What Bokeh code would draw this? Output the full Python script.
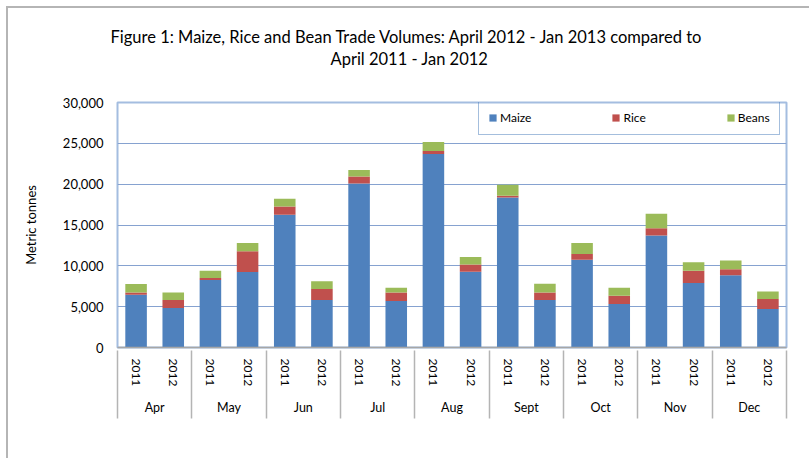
from bokeh.plotting import figure
from bokeh.models import (FactorRange, Range1d, LinearAxis, FixedTicker, NumeralTickFormatter,
                          Legend, LegendItem, Title, ColumnDataSource)
from bokeh.embed import file_html
from bokeh.resources import INLINE

# ---------------- data ----------------
months = ["Apr", "May", "Jun", "Jul", "Aug", "Sept", "Oct", "Nov", "Dec"]
years = ["2011", "2012"]
maize = [6460, 4830, 8260, 9250, 16240, 5810, 20090, 5690, 23690,
         9290, 18370, 5810, 10760, 5320, 13710, 7900, 8840, 4710]
rice = [290, 980, 250, 2530, 1030, 1350, 860, 1060, 370,
        860, 210, 940, 700, 1020, 900, 1510, 730, 1220]
beans = [1020, 940, 900, 1030, 940, 940, 780, 570, 1100,
         940, 1350, 1060, 1350, 980, 1760, 1020, 1070, 940]
series = ["Maize", "Rice", "Beans"]
colors = ["#4F81BD", "#C0504D", "#9BBB59"]
y_ticks = [0, 5000, 10000, 15000, 20000, 25000, 30000]
title_lines = ["Figure 1: Maize, Rice and Bean Trade Volumes: April 2012 -  Jan 2013   compared  to",
               "April 2011 - Jan 2012"]
y_label = "Metric tonnes"

FONT = "Lato"

x = [(m, y) for m in months for y in years]
source = ColumnDataSource(dict(x=x, Maize=maize, Rice=rice, Beans=beans))

p = figure(x_range=FactorRange(*x, group_padding=0, range_padding=0),
           y_range=Range1d(0, 30000),
           width=801, height=450, output_backend="svg", toolbar_location=None,
           min_border_left=109, min_border_right=23, min_border_top=94, min_border_bottom=111)
p.styles = {"margin-left": "8px", "margin-top": "8px", "outline": "2px solid #b5b5b5"}
p.background_fill_color = "white"
p.border_fill_color = "white"
p.outline_line_color = "#a4bde0"
p.outline_line_width = 2

renderers = p.vbar_stack(series, x="x", width=0.58, color=colors, line_color=None, source=source)

# grid
p.xgrid.grid_line_color = None
p.ygrid.ticker = FixedTicker(ticks=y_ticks)
p.ygrid.grid_line_color = "#86a2d0"
p.ygrid.grid_line_width = 1.2

# y axis
ya = p.yaxis[0]
ya.ticker = FixedTicker(ticks=y_ticks)
ya.formatter = NumeralTickFormatter(format="0,0")
ya.axis_line_color = None
ya.major_tick_line_color = None
ya.minor_tick_line_color = None
ya.major_tick_out = 0
ya.major_tick_in = 0
ya.major_label_standoff = 14
ya.major_label_text_font = FONT
ya.major_label_text_font_size = "13px"
ya.major_label_text_color = "black"
ya.axis_label = y_label
ya.axis_label_text_font = FONT
ya.axis_label_text_font_size = "13px"
ya.axis_label_text_font_style = "normal"
ya.axis_label_text_color = "black"
ya.axis_label_standoff = 21

# categorical x axis
xa = p.xaxis[0]
xa.axis_line_color = "#a6a6a6"
xa.axis_line_width = 1.5
xa.major_tick_line_color = None
xa.major_tick_out = 0
xa.major_tick_in = 0
xa.major_label_orientation = "vertical"
xa.major_label_standoff = 11
xa.major_label_text_font = FONT
xa.major_label_text_font_size = "12px"
xa.major_label_text_color = "black"
xa.group_text_font = FONT
xa.group_text_font_size = "12.5px"
xa.group_text_font_style = "normal"
xa.group_text_color = "black"
xa.separator_line_color = None

# separators between month groups (synthetic coordinates of the factor range)
sep = LinearAxis(ticker=FixedTicker(ticks=list(range(0, len(x) + 1, len(years)))),
                 major_tick_in=68, major_tick_out=0,
                 major_tick_line_color="#b4b4b4", major_tick_line_width=1.5,
                 minor_tick_line_color=None, axis_line_color=None,
                 major_label_text_font_size="0px", major_label_text_alpha=0)
p.add_layout(sep, "below")

# legend
legend = Legend(items=[LegendItem(label=s, renderers=[r]) for s, r in zip(series, renderers)],
                orientation="horizontal", location=(361, 212),
                border_line_color="#4a7ebb", border_line_width=1.5,
                background_fill_alpha=0, padding=9, spacing=80, margin=0,
                glyph_width=9, glyph_height=9, label_standoff=3,
                label_text_font=FONT, label_text_font_size="12px", label_text_color="black")
p.add_layout(legend, "center")

# title: spacer nearest the plot, then the two lines
p.add_layout(Title(text=" ", standoff=21, text_font_size="10px"), "above")
p.add_layout(Title(text=title_lines[1], align="left", offset=213, standoff=0,
                   text_font=FONT, text_font_size="16.5px", text_font_style="normal",
                   text_color="black"), "above")
p.add_layout(Title(text=title_lines[0], align="left", offset=-7, standoff=0,
                   text_font=FONT, text_font_size="16.5px", text_font_style="normal",
                   text_color="black"), "above")

open("out.html", "w").write(file_html(p, INLINE))
